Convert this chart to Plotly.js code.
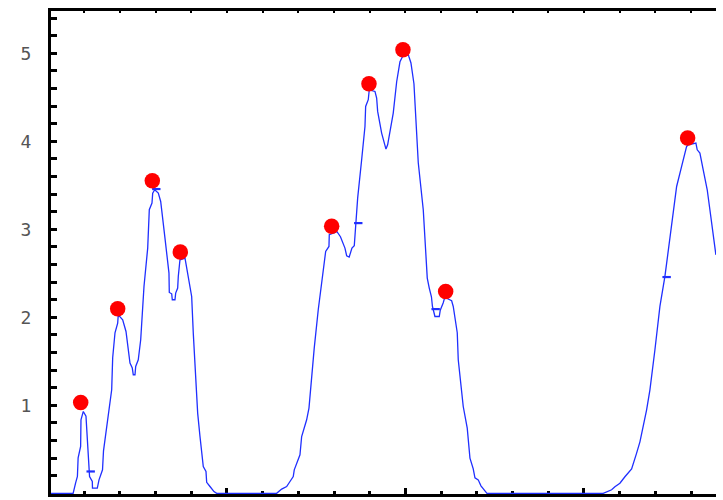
<!DOCTYPE html>
<html>
<head>
<meta charset="utf-8">
<script src="https://cdn.plot.ly/plotly-3.0.1.min.js"></script>
<style>html,body{margin:0;padding:0;background:#fff;}#chart{width:723px;height:500px;}</style>
</head>
<body>
<div id="chart"></div>
<script>
// Signal curve
const curveX = [0, 6.9, 7.6, 8.1, 8.3, 9.0, 9.1, 9.75, 10.5, 11.15, 11.5, 12.27, 12.32, 13.67, 14.15, 15.13, 15.41,
  17.7, 17.98, 18.63, 19.38, 19.55, 20.78, 21.71, 22.18, 22.83, 23.47, 23.75, 24.23, 24.43, 25.15, 25.83, 26.75,
  27.79, 28.24, 28.99, 29.19, 29.75, 30.76, 31.43, 32.63, 33.75, 33.84, 34.51, 34.68, 35.43, 35.63, 36.19, 36.36,
  36.83, 38.24, 38.71, 39.27, 40.11, 40.56, 41.79, 42.44, 43.36, 44.12, 44.31, 45.24, 46.36, 47.11, 63.92,
  65.32, 66.72, 67.65, 68.57, 68.85, 70.45, 70.92, 72.32, 72.97, 73.73, 74.45, 75.57, 76.97, 77.65, 78.57, 78.66,
  80.83, 81.79, 83.05, 83.53, 84.23, 84.73, 85.01, 85.66, 86.13, 86.61, 87.73, 88.66, 88.85, 89.58, 89.86, 91.46,
  91.93, 92.21, 93.33, 93.78, 94.26, 94.54, 95.01, 95.38, 96.58, 97.54, 98.46, 99.3, 100.7, 100.98, 101.54, 102.38,
  103.59, 104.99, 106.11, 106.67, 107.28, 107.56, 108.26, 109.47, 109.75, 110.59, 111.06, 111.54, 112.94, 113.39,
  114.15, 114.51, 114.79, 115.74, 116.19, 117.31, 117.65, 118.07, 118.99, 119.47, 120.39, 121.15, 122.27, 122.83,
  155.41, 157.76, 158.68, 160.08, 161.48, 163.36, 164.76, 165.69, 167.56, 168.49, 169.89, 171.29, 172.69, 174.09,
  175.97, 177.37, 178.29, 178.77, 179.22, 181.37, 181.74, 182.49, 183.42, 184.54, 185.29, 186.22, 186.97];
const curveY = [0, 0, 0.119, 0.191, 0.403, 0.532, 0.835, 0.930, 0.875, 0.494, 0.191, 0.134, 0.059, 0.059, 0.153, 0.267, 0.483,
  1.176, 1.540, 1.824, 1.934, 2.028, 1.972, 1.839, 1.688, 1.480, 1.423, 1.347, 1.347, 1.441, 1.517, 1.744, 2.350,
  2.786, 3.222, 3.298, 3.411, 3.449, 3.411, 3.316, 2.900, 2.502, 2.282, 2.267, 2.199, 2.199, 2.275, 2.332, 2.464,
  2.653, 2.673, 2.559, 2.464, 2.236, 1.820, 0.911, 0.645, 0.305, 0.248, 0.125, 0.077, 0.020, 0, 0,
  0.048, 0.077, 0.134, 0.191, 0.267, 0.438, 0.645, 0.835, 0.968, 1.347, 1.653, 2.085, 2.577, 2.748, 2.805, 2.938,
  2.972, 2.915, 2.786, 2.699, 2.684, 2.756, 2.786, 2.813, 3.051, 3.354, 3.790, 4.168, 4.395, 4.472, 4.585, 4.566,
  4.491, 4.339, 4.093, 4.017, 3.941, 3.911, 3.960, 4.055, 4.320, 4.676, 4.903, 4.972, 5.000, 4.960, 4.889, 4.653,
  3.756, 3.222, 2.445, 2.332, 2.233, 2.123, 2.009, 2.009, 2.080, 2.165, 2.233, 2.216, 2.188, 2.123,
  1.934, 1.824, 1.517, 1.100, 0.986, 0.741, 0.551, 0.400, 0.278, 0.176, 0.153, 0.085, 0.028, 0,
  0, 0.040, 0.074, 0.114, 0.188, 0.278, 0.457, 0.585, 0.949, 1.176, 1.631, 2.123, 2.464, 2.881,
  3.486, 3.714, 3.866, 3.941, 3.960, 3.980, 3.903, 3.866, 3.676, 3.449, 3.222, 2.957, 2.710];

// Detected peaks (red dots)
const peakX = [9.02, 19.38, 29.08, 36.92, 79.33, 89.78, 99.3, 111.26, 179.05];
const peakY = [1.032, 2.097, 3.551, 2.741, 3.034, 4.653, 5.040, 2.293, 4.036];

// Small blue dash markers
const dashX = [11.82, 30.2, 86.78, 108.46, 173.17];
const dashY = [0.248, 3.457, 3.070, 2.093, 2.457];

// Y tick labels
const yTickVals = [1, 2, 3, 4, 5];
const yTickText = ['1', '2', '3', '4', '5'];

const blue = '#1f2fff';
const xRange = [0.7, 187.0];

const traces = [
  {x: curveX, y: curveY, type: 'scatter', mode: 'lines', line: {color: blue, width: 1.3}, hoverinfo: 'none'},
  {x: dashX, y: dashY, type: 'scatter', mode: 'markers',
   marker: {symbol: 'line-ew', size: 6, line: {color: blue, width: 2.2}}, hoverinfo: 'none'},
  {x: peakX, y: peakY, type: 'scatter', mode: 'markers',
   marker: {color: '#ff0000', size: 15.5, line: {width: 0}}, hoverinfo: 'none'},
  {x: [xRange[0]], y: [-1], xaxis: 'x2', type: 'scatter', mode: 'markers',
   marker: {opacity: 0}, hoverinfo: 'none'}
];

const layout = {
  width: 723, height: 500,
  margin: {l: 51, r: 7, t: 11, b: 6, pad: 0},
  paper_bgcolor: '#ffffff', plot_bgcolor: '#ffffff',
  showlegend: false,
  xaxis: {
    range: xRange, showgrid: false, zeroline: false,
    showline: true, linecolor: '#000', linewidth: 3, layer: 'below traces',
    ticks: 'inside', tick0: 0, dtick: 50, ticklen: 6, tickwidth: 3, tickcolor: '#000',
    minor: {ticks: 'inside', dtick: 10, tick0: 0, ticklen: 3, tickwidth: 3, tickcolor: '#000', showgrid: false},
    showticklabels: false
  },
  xaxis2: {
    overlaying: 'x', side: 'top', anchor: 'y',
    range: xRange, showgrid: false, zeroline: false,
    showline: true, linecolor: '#000', linewidth: 3,
    ticks: 'inside', tick0: 0, dtick: 10, ticklen: 2, tickwidth: 2, tickcolor: '#000',
    showticklabels: false
  },
  yaxis: {
    range: [-0.008, 5.48], showgrid: false, zeroline: false,
    showline: true, linecolor: '#000', linewidth: 3, layer: 'below traces',
    ticks: 'inside', tickmode: 'array', tickvals: yTickVals, ticktext: yTickText,
    ticklen: 6, tickwidth: 3, tickcolor: '#000',
    minor: {ticks: 'inside', dtick: 0.2, tick0: 0, ticklen: 6, tickwidth: 3, tickcolor: '#000', showgrid: false},
    tickfont: {family: 'DejaVu Sans Mono', size: 18, color: '#555'},
    ticklabelstandoff: 13
  }
};

Plotly.newPlot('chart', traces, layout, {displayModeBar: false, staticPlot: true});
</script>
</body>
</html>
